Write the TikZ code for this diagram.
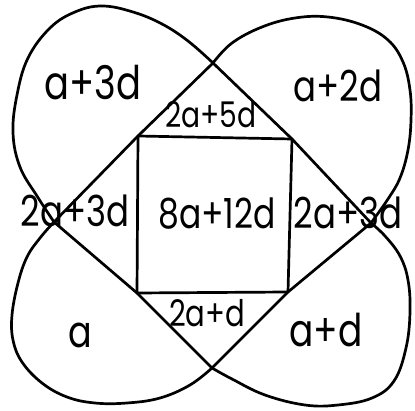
\documentclass[tikz,border=0pt]{standalone}
\usepackage{fontspec}
\usepackage{graphicx}
\setmainfont{Poppins}
\newcommand{\tallt}[1]{\scalebox{0.97}[1.22]{#1}}
\begin{document}
\begin{tikzpicture}[x=1pt,y=-1pt,
  ln/.style={line width=2.7pt, line join=round, line cap=round},
  lab/.style={inner sep=0pt, anchor=base, font=\fontsize{#1}{#1}\selectfont},
  lab/.default=34]
\useasboundingbox (0,0) rectangle (415,411);
\fill[white] (0,0) rectangle (415,411);
% diamond vertices
\coordinate (T) at (213,63);
\coordinate (L) at (54,222);
\coordinate (R) at (371,223);
\coordinate (B) at (212,368);
% square corners
\coordinate (STL) at (138,136);
\coordinate (STR) at (292,139);
\coordinate (SBR) at (288,292);
\coordinate (SBL) at (137,293);
% diamond edges
\draw[ln] (T) -- (STL) -- (L);
\draw[ln] (T) -- (STR) -- (R);
\draw[ln] (L) -- (SBL) -- (B);
\draw[ln] (B) -- (SBR) -- (R);
% square
\draw[ln] (STL) -- (STR) -- (SBR) -- (SBL) -- cycle;
% petals
\draw[ln] plot[smooth, tension=0.65] coordinates {(54,222) (37,196) (20,167) (13,133) (17,95) (28,58) (50,28) (75,12) (102,6) (133,12) (162,24) (188,41) (213,63)};
\draw[ln] plot[smooth, tension=0.65] coordinates {(213,63) (232,43) (262,27) (295,18) (328,17) (362,25) (388,40) (403,62) (410,90) (411,120) (408,150) (400,178) (388,199) (371,223)};
\draw[ln] plot[smooth, tension=0.65] coordinates {(54,222) (40,238) (27,257) (18,283) (12,315) (13,340) (22,362) (42,383) (67,397) (95,403) (127,403) (160,398) (190,385) (212,368)};
\draw[ln] plot[smooth, tension=0.65] coordinates {(371,223) (385,236) (400,256) (408,280) (410,312) (406,348) (394,381) (372,398) (338,405) (305,405) (265,395) (232,379) (212,368)};
% labels
\node[lab=38] (l1) at (93,100) {\tallt{a+3d}};
\node[lab=35] (l2) at (338,102) {\tallt{a+2d}};
\node[lab=29] (l3) at (211,128) {\tallt{2a+5d}};
\node[lab=35] (l4) at (75,227) {\tallt{2a+3d}};
\node[lab=34] (l5) at (217,229) {\tallt{8a+12d}};
\node[lab=35] (l6) at (348,229) {\tallt{2a+3d}};
\node[lab=30] (l7) at (207,327) {\tallt{2a+d}};
\node[lab=36] (l8) at (80,348) {\tallt{a}};
\node[lab=37] (l9) at (326,347) {\tallt{a+d}};
\end{tikzpicture}
\end{document}
